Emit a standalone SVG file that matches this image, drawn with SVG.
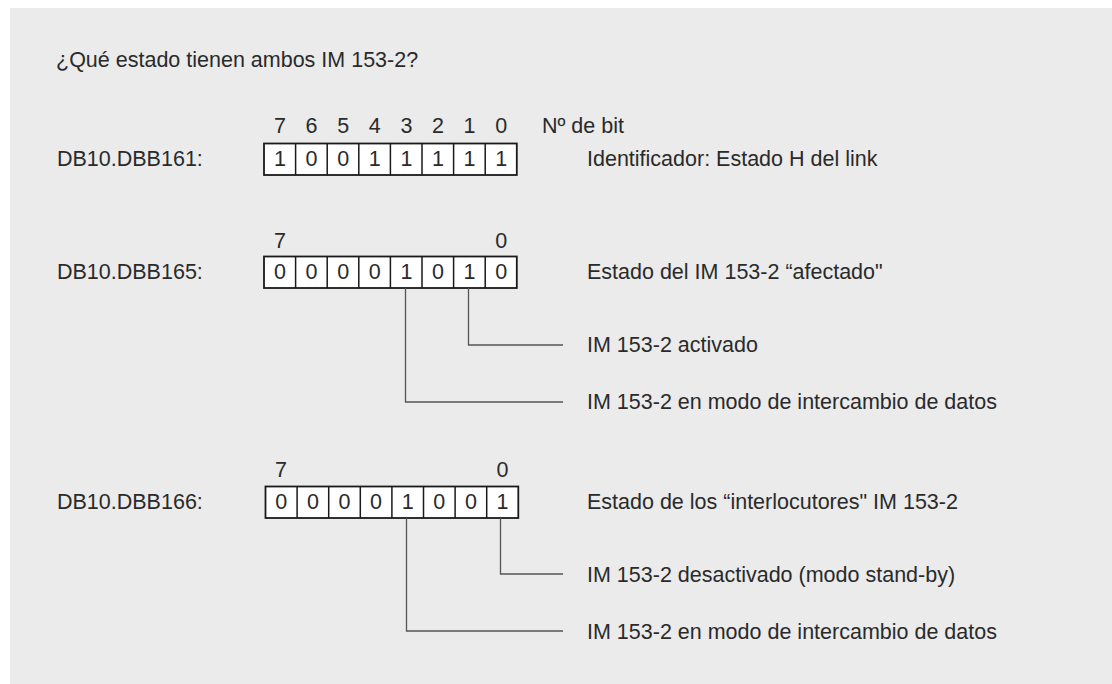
<svg xmlns="http://www.w3.org/2000/svg" width="1112" height="684" viewBox="0 0 1112 684">
<style>
text{font-family:"Liberation Sans",Arial,sans-serif;font-size:21.5px;fill:#2a2a2a}
.c{text-anchor:middle}
.box{fill:#fff;stroke:#1a1a1a;stroke-width:1.8}
.div{stroke:#1a1a1a;stroke-width:1.5}
.con{fill:none;stroke:#555;stroke-width:1.3}
</style>
<rect x="0" y="0" width="1112" height="684" fill="#fff"/>
<rect x="10" y="8" width="1102" height="676" fill="#ebebeb"/>
<g id="title"><text x="56" y="67">¿Qué estado tienen ambos IM 153-2?</text></g>

<g id="byte161">
<text x="57" y="166">DB10.DBB161:</text>
<g class="c">
<text x="280" y="133">7</text><text x="311.6" y="133">6</text><text x="343.2" y="133">5</text><text x="374.8" y="133">4</text><text x="406.4" y="133">3</text><text x="438" y="133">2</text><text x="469.6" y="133">1</text><text x="501.2" y="133">0</text>
</g>
<text x="542" y="133">Nº de bit</text>
<rect class="box" x="264" y="143.5" width="252.8" height="31.5"/>
<path class="div" d="M295.6 143.5V175M327.2 143.5V175M358.8 143.5V175M390.4 143.5V175M422 143.5V175M453.6 143.5V175M485.2 143.5V175"/>
<g class="c">
<text x="280" y="166">1</text><text x="311.6" y="166">0</text><text x="343.2" y="166">0</text><text x="374.8" y="166">1</text><text x="406.4" y="166">1</text><text x="438" y="166">1</text><text x="469.6" y="166">1</text><text x="501.2" y="166">1</text>
</g>
<text x="587" y="166">Identificador: Estado H del link</text>
</g>

<g id="byte165">
<text x="57" y="279">DB10.DBB165:</text>
<text class="c" x="280" y="248">7</text><text class="c" x="501.2" y="248">0</text>
<rect class="box" x="264" y="256.5" width="252.8" height="31.5"/>
<path class="div" d="M295.6 256.5V288M327.2 256.5V288M358.8 256.5V288M390.4 256.5V288M422 256.5V288M453.6 256.5V288M485.2 256.5V288"/>
<g class="c">
<text x="280" y="279">0</text><text x="311.6" y="279">0</text><text x="343.2" y="279">0</text><text x="374.8" y="279">0</text><text x="406.4" y="279">1</text><text x="438" y="279">0</text><text x="469.6" y="279">1</text><text x="501.2" y="279">0</text>
</g>
<text x="587" y="279">Estado del IM 153-2 “afectado"</text>
<text x="587" y="352">IM 153-2 activado</text>
<text x="587" y="409">IM 153-2 en modo de intercambio de datos</text>
</g>

<g id="byte166">
<text x="57" y="509">DB10.DBB166:</text>
<text class="c" x="281" y="477">7</text><text class="c" x="502.5" y="477">0</text>
<rect class="box" x="265.5" y="486.5" width="252.8" height="31.5"/>
<path class="div" d="M297.1 486.5V518M328.7 486.5V518M360.3 486.5V518M391.9 486.5V518M423.5 486.5V518M455.1 486.5V518M486.7 486.5V518"/>
<g class="c">
<text x="281.3" y="509">0</text><text x="312.9" y="509">0</text><text x="344.5" y="509">0</text><text x="376.1" y="509">0</text><text x="407.7" y="509">1</text><text x="439.3" y="509">0</text><text x="470.9" y="509">0</text><text x="502.5" y="509">1</text>
</g>
<text x="587" y="509">Estado de los “interlocutores" IM 153-2</text>
<text x="587" y="582">IM 153-2 desactivado (modo stand-by)</text>
<text x="587" y="639">IM 153-2 en modo de intercambio de datos</text>
</g>

<g id="connectors">
<path class="con" d="M468.5 288V345H563"/>
<path class="con" d="M405.5 288V402H563"/>
<path class="con" d="M500.5 518V574H563"/>
<path class="con" d="M406.5 518V631H563"/>
</g>
</svg>
